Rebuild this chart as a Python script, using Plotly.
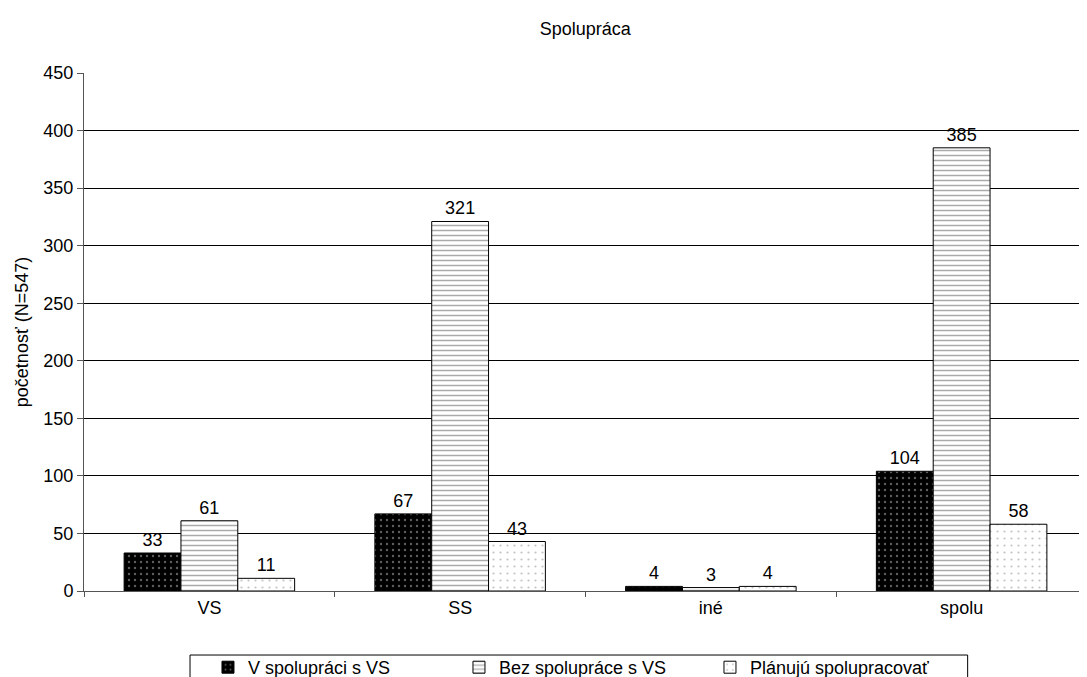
import plotly.graph_objects as go

categories = ["VS", "SS", "iné", "spolu"]
v_spolupraci = [33, 67, 4, 104]
bez_spoluprace = [61, 321, 3, 385]
planuju = [11, 43, 4, 58]
series_names = ["V spolupráci s VS", "Bez spolupráce s VS", "Plánujú spolupracovať"]

FONT = "Liberation Sans, Arial, sans-serif"
FS = 18

fig = go.Figure()
fig.add_trace(go.Bar(
    x=categories, y=v_spolupraci, name=series_names[0],
    text=v_spolupraci, textposition="outside",
    marker=dict(color="black", line=dict(color="black", width=1),
                pattern=dict(shape=".", bgcolor="black", fgcolor="#bbbbbb", size=6, solidity=0.12)),
))
fig.add_trace(go.Bar(
    x=categories, y=bez_spoluprace, name=series_names[1],
    text=bez_spoluprace, textposition="outside",
    marker=dict(color="white", line=dict(color="black", width=1),
                pattern=dict(shape="-", bgcolor="white", fgcolor="#555555", size=5, solidity=0.3)),
))
fig.add_trace(go.Bar(
    x=categories, y=planuju, name=series_names[2],
    text=planuju, textposition="outside",
    marker=dict(color="white", line=dict(color="black", width=1),
                pattern=dict(shape=".", bgcolor="white", fgcolor="#888888", size=7, solidity=0.08)),
))

fig.update_traces(textfont=dict(family=FONT, size=FS, color="black"), cliponaxis=False)

fig.add_shape(type="rect", xref="paper", yref="paper",
              x0=0.1057, x1=0.881, y0=-0.1236, y1=-0.2,
              line=dict(color="black", width=1), fillcolor="rgba(0,0,0,0)", layer="below")

fig.update_layout(
    width=1087, height=677,
    barmode="group", bargap=0.32, bargroupgap=0,
    paper_bgcolor="white", plot_bgcolor="white",
    margin=dict(l=76, r=8, t=65, b=94, autoexpand=False),
    font=dict(family=FONT, size=FS, color="black"),
    title=dict(text="Spolupráca", x=0.531, xanchor="center", y=0.970, yanchor="middle",
               font=dict(family=FONT, size=FS, color="black")),
    xaxis=dict(showline=True, linecolor="#555555", linewidth=1, ticks="outside",
               tickcolor="#555555", ticklen=5, tickson="boundaries", automargin=False,
               tickfont=dict(family=FONT, size=FS)),
    yaxis=dict(range=[0, 450], dtick=50, showgrid=True, gridcolor="black", gridwidth=1,
               showline=True, linecolor="#555555", linewidth=1, ticks="outside",
               tickcolor="#555555", ticklen=6, zeroline=False, automargin=False,
               tickfont=dict(family=FONT, size=FS),
               title=dict(text="početnosť (N=547)", font=dict(family=FONT, size=FS), standoff=10)),
    legend=dict(orientation="h", x=0.1236, xanchor="left", y=-0.112, yanchor="top",
                borderwidth=0, bgcolor="rgba(0,0,0,0)",
                entrywidth=206, font=dict(family=FONT, size=FS)),
)

fig.write_html("out.html")
